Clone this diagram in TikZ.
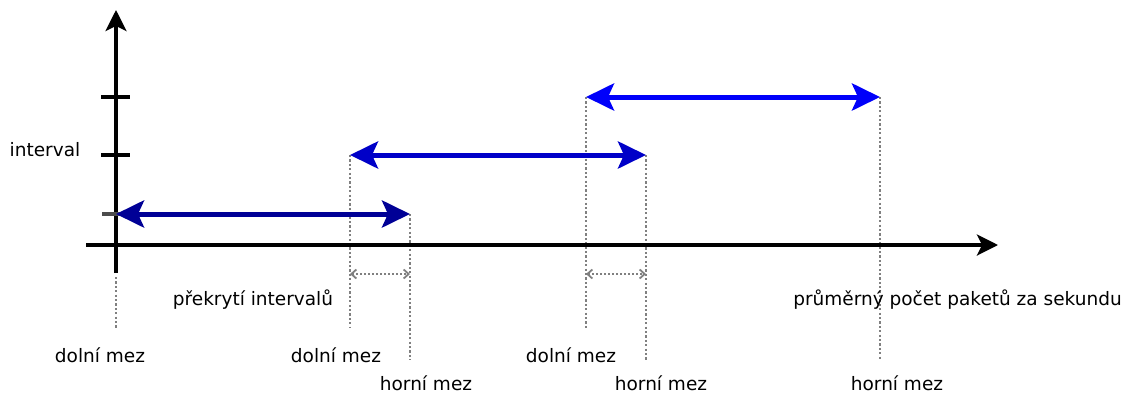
\documentclass[tikz,border=0pt]{standalone}
\usepackage{fontspec}
\setmainfont{DejaVu Sans}
\usetikzlibrary{arrows.meta}
\definecolor{spanA}{RGB}{0,0,150}
\definecolor{spanB}{RGB}{0,0,200}
\definecolor{spanC}{RGB}{0,0,250}
\definecolor{guidegray}{RGB}{128,128,128}
\begin{document}
\begin{tikzpicture}[x=1pt,y=-1pt,
  axis/.style={line width=3.2pt, -{Stealth[length=21pt,width=21pt,inset=5pt]}},
  tick/.style={line width=3.2pt},
  span/.style={line width=5pt,
    {Stealth[length=28pt,width=27pt,inset=6pt]}-{Stealth[length=28pt,width=27pt,inset=6pt]}},
  guide/.style={draw=guidegray, line width=2.4pt, dash pattern=on 2.2pt off 2.2pt},
  overlap/.style={draw=guidegray, line width=1.8pt, dash pattern=on 2pt off 2pt,
    {Straight Barb[length=5pt,width=9pt]}-{Straight Barb[length=5pt,width=9pt]}},
  lbl/.style={font=\fontsize{18.5}{22}\selectfont, anchor=base, inner sep=0pt}]
\useasboundingbox (0,0) rectangle (1130,394);

% axes end points
\coordinate (ybot) at (116,273);
\coordinate (ytop) at (116,10);
\coordinate (xl) at (86,245);
\coordinate (xr) at (998,245);

% interval bounds
\coordinate (a1) at (116,214); \coordinate (b1) at (410,214);
\coordinate (a2) at (350,155); \coordinate (b2) at (646,155);
\coordinate (a3) at (586,97);  \coordinate (b3) at (880,97);

% guide ends
\coordinate (g0t) at (116,277); \coordinate (g0) at (116,328);
\coordinate (ga2) at (350,328); \coordinate (gb1) at (410,360);
\coordinate (ga3) at (586,328); \coordinate (gb2) at (646,360);
\coordinate (gb3) at (880,360);

% overlap markers
\coordinate (o1l) at (350,274); \coordinate (o1r) at (410,274);
\coordinate (o2l) at (586,274); \coordinate (o2r) at (646,274);

% dotted guides
\draw[guide] (g0t) -- (g0);
\draw[guide] (a2) -- (ga2);
\draw[guide] (b1) -- (gb1);
\draw[guide] (a3) -- (ga3);
\draw[guide] (b2) -- (gb2);
\draw[guide] (b3) -- (gb3);

\draw[overlap] (o1l) -- (o1r);
\draw[overlap] (o2l) -- (o2r);

% axes and ticks
\draw[axis] (ybot) -- (ytop);
\draw[axis] (xl) -- (xr);
\draw[tick] (101,97) -- (130,97);
\draw[tick] (101,155) -- (130,155);
\draw[tick, draw=black!70] (102,214) -- (130,214);

% intervals
\draw[span, draw=spanA, fill=spanA] (a1) -- (b1);
\draw[span, draw=spanB, fill=spanB] (a2) -- (b2);
\draw[span, draw=spanC, fill=spanC] (a3) -- (b3);

% labels
\node[lbl] (lint) at (45,156) {interval};
\node[lbl] (ld1) at (100,362) {dolní mez};
\node[lbl] (ld2) at (336,362) {dolní mez};
\node[lbl] (ld3) at (571,362) {dolní mez};
\node[lbl] (lh1) at (426,390) {horní mez};
\node[lbl] (lh2) at (661,390) {horní mez};
\node[lbl] (lh3) at (897,390) {horní mez};
\node[lbl] (lov) at (253,305) {překrytí intervalů};
\node[lbl] (lx) at (957.5,305) {průměrný počet paketů za sekundu};
\end{tikzpicture}
\end{document}
